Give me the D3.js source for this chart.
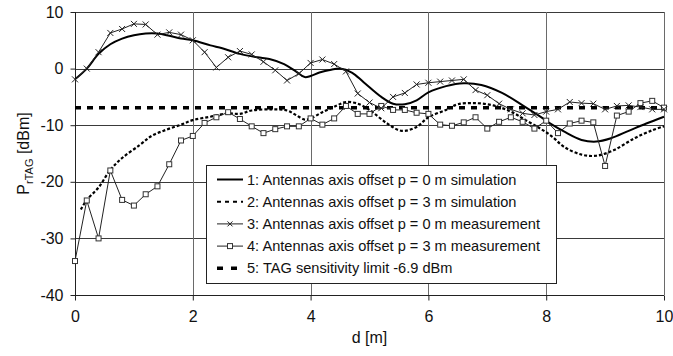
<!DOCTYPE html>
<html>
<head>
<meta charset="utf-8">
<script src="https://cdn.jsdelivr.net/npm/d3@7"></script>
<style>
  body { margin: 0; background: #fff; }
  svg { display: block; font-family: "Liberation Sans", Arial, sans-serif; }
</style>
</head>
<body>
<svg id="chart" width="673" height="356"></svg>
<script>
// measurement distances, 0.2 m steps
const measD = d3.range(0, 10.001, 0.2);

// 3: p = 0 m measurement (crosses)
const meas0 = [-1.9, 0, 2.9, 6.3, 7.0, 7.9, 7.8, 6.0, 6.4, 6.0, 5.0,
  2.9, 0.2, 2.0, 3.1, 2.5, 1.2, -0.3, -2.1, -0.9, 1.0,
  1.6, 0.8, -0.5, -4.4, -6.0, -7.0, -5.0, -4.3, -2.8, -2.5,
  -2.3, -2.1, -1.9, -3.8, -4.7, -6.2, -7.2, -7.9, -8.2, -7.6,
  -7.2, -5.9, -6.1, -6.2, -7.2, -6.6, -6.5, -6.8, -7.2, -7.2];

// 4: p = 3 m measurement (squares)
const meas3 = [-34, -23.3, -30, -18, -23.2, -24.2, -22.2, -20.8, -16.9, -12.7, -11.9,
  -9.6, -8.6, -7.7, -8.9, -10.2, -11.4, -10.7, -10.2, -10.2, -8.8,
  -9.9, -8.8, -6.6, -8.0, -8.0, -6.6, -7.3, -7.3, -7.8, -8.0,
  -9.9, -10.1, -9.5, -8.6, -10.6, -9.4, -8.6, -9.4, -10.6, -9.2,
  -11.4, -9.7, -9.2, -9.5, -17.2, -8.3, -7.6, -6.1, -5.7, -6.9];

// 1: p = 0 m simulation
const sim0D = [0, 0.2, 0.4, 0.6, 0.8, 1.0, 1.2, 1.4, 1.6, 1.8, 2.0, 2.3, 2.5, 2.8, 3.1, 3.3,
  3.55, 3.75, 3.9, 4.0, 4.15, 4.35, 4.5, 4.7, 4.9, 5.2, 5.4, 5.6, 5.8, 6.0, 6.3, 6.6,
  6.9, 7.25, 7.6, 7.9, 8.1, 8.3, 8.6, 8.85, 9.1, 9.4, 9.7, 10];
const sim0 = [-1.9, 0, 2.6, 4.3, 5.3, 5.9, 6.2, 6.2, 5.8, 5.3, 5.0, 4.1, 3.6, 2.6, 2.0, 1.7,
  0.8, -0.5, -1.5, -1.3, -0.7, -0.2, 0, -0.7, -2.4, -5.0, -6.2, -6.3, -5.6, -4.2, -3.1, -2.6,
  -2.9, -4.3, -6.5, -8.5, -9.9, -11.1, -12.6, -12.9, -12.3, -11.0, -9.7, -8.5];

// 2: p = 3 m simulation
const sim3D = [0.1, 0.2, 0.4, 0.6, 0.8, 1.1, 1.3, 1.55, 1.8, 2.0, 2.3, 2.6, 2.8, 3.0, 3.35,
  3.6, 3.75, 3.9, 4.0, 4.2, 4.45, 4.6, 4.8, 5.0, 5.3, 5.55, 5.8, 6.0, 6.3, 6.5, 6.8,
  7.1, 7.4, 7.65, 7.9, 8.1, 8.3, 8.6, 8.85, 9.15, 9.5, 9.8, 10];
const sim3 = [-24.9, -23.2, -21, -17.9, -15.8, -13.5, -11.9, -10.8, -9.9, -9.1, -8.5, -7.9, -8.0, -7.4, -7.2,
  -7.4, -8.2, -9.0, -8.8, -7.7, -6.5, -5.9, -6.2, -7.3, -9.7, -11.0, -10.3, -8.6, -7.3, -6.3, -6.1,
  -6.5, -7.6, -9.1, -10.6, -12.0, -13.8, -15.2, -15.4, -14.4, -12.3, -10.9, -10.2];

// 5: TAG sensitivity limit
const sensLimit = -6.9;

const xTicks = [0, 2, 4, 6, 8, 10];
const yTicks = [10, 0, -10, -20, -30, -40];

const legendLabels = [
  "1: Antennas axis offset p = 0 m simulation",
  "2: Antennas axis offset p = 3 m simulation",
  "3: Antennas axis offset p = 0 m measurement",
  "4: Antennas axis offset p = 3 m measurement",
  "5: TAG sensitivity limit -6.9 dBm"
];

const svg = d3.select("#chart");
const pLeft = 75, pRight = 664, pTop = 12, pBottom = 295;

const x = d3.scaleLinear().domain([0, 10]).range([pLeft, pRight]);
const y = d3.scaleLinear().domain([-40, 10]).range([pBottom, pTop]);

// grid
const grid = svg.append("g");
grid.selectAll("line.h")
  .data(yTicks.filter(v => v > -40))
  .enter().append("line")
  .attr("x1", pLeft).attr("x2", pRight)
  .attr("y1", d => Math.round(y(d)) + 0.5).attr("y2", d => Math.round(y(d)) + 0.5)
  .attr("stroke", "#3a3a3a");
grid.selectAll("line.v")
  .data(xTicks.filter(v => v > 0))
  .enter().append("line")
  .attr("y1", pTop).attr("y2", pBottom)
  .attr("x1", d => Math.round(x(d)) + 0.5).attr("x2", d => Math.round(x(d)) + 0.5)
  .attr("stroke", "#6a6a6a");

// axes (plain hyphen for negatives, as in the source figure)
const plain = d => String(d);
const yAxis = svg.append("g")
  .attr("transform", `translate(${pLeft + 0.5},0)`)
  .call(d3.axisLeft(y).tickValues(yTicks).tickSize(5).tickPadding(7).tickFormat(plain));
const xAxis = svg.append("g")
  .attr("transform", `translate(0,${Math.round(y(-40)) + 0.5})`)
  .call(d3.axisBottom(x).tickValues(xTicks).tickSize(5).tickPadding(10).tickFormat(plain));
[xAxis, yAxis].forEach(a => {
  a.select(".domain").attr("stroke", "#222");
  a.selectAll(".tick line").attr("stroke", "#222");
  a.selectAll("text").attr("font-size", 16).attr("fill", "#111")
    .attr("font-family", "'Liberation Sans', Arial, sans-serif");
});
yAxis.select(".domain").attr("d", `M0,${pTop}V${pBottom}`);
xAxis.select(".domain").attr("d", `M${pLeft},0H${pRight}`);

// axis titles
svg.append("text")
  .attr("x", (pLeft + pRight) / 2).attr("y", 343)
  .attr("text-anchor", "middle").attr("font-size", 16).attr("fill", "#111")
  .text("d [m]");
const yTitle = svg.append("text")
  .attr("transform", `translate(29,${(pTop + pBottom) / 2}) rotate(-90)`)
  .attr("text-anchor", "middle").attr("font-size", 16).attr("fill", "#111");
yTitle.append("tspan").text("P");
yTitle.append("tspan").attr("font-size", 11).attr("dy", 4).text("rTAG");
yTitle.append("tspan").attr("dy", -4).text(" [dBm]");

// sensitivity limit
svg.append("line")
  .attr("x1", x(0)).attr("x2", x(10))
  .attr("y1", y(sensLimit)).attr("y2", y(sensLimit))
  .attr("stroke", "#000").attr("stroke-width", 3.5)
  .attr("stroke-dasharray", "6,6");

const smooth = d3.line().curve(d3.curveCatmullRom.alpha(0.5)).x(d => x(d[0])).y(d => y(d[1]));
const straight = d3.line().x(d => x(d[0])).y(d => y(d[1]));

// simulations
svg.append("path")
  .datum(sim3D.map((d, i) => [d, sim3[i]]))
  .attr("d", smooth).attr("fill", "none")
  .attr("stroke", "#000").attr("stroke-width", 2.2)
  .attr("stroke-dasharray", "3,2");
svg.append("path")
  .datum(sim0D.map((d, i) => [d, sim0[i]]))
  .attr("d", smooth).attr("fill", "none")
  .attr("stroke", "#000").attr("stroke-width", 2);

// measurement p = 3 m
const m3 = measD.map((d, i) => [d, meas3[i]]);
svg.append("path").datum(m3).attr("d", straight)
  .attr("fill", "none").attr("stroke", "#222").attr("stroke-width", 1);
svg.append("g").selectAll("rect")
  .data(m3).enter().append("rect")
  .attr("x", d => x(d[0]) - 2.5).attr("y", d => y(d[1]) - 2.5)
  .attr("width", 5).attr("height", 5)
  .attr("fill", "#fff").attr("stroke", "#333").attr("stroke-width", 1);

// measurement p = 0 m
const m0 = measD.map((d, i) => [d, meas0[i]]);
svg.append("path").datum(m0).attr("d", straight)
  .attr("fill", "none").attr("stroke", "#222").attr("stroke-width", 1);
const cross = (sel, s) => sel.attr("d", `M${-s},${-s}L${s},${s}M${-s},${s}L${s},${-s}`)
  .attr("stroke", "#222").attr("stroke-width", 1).attr("fill", "none");
svg.append("g").selectAll("path")
  .data(m0).enter().append("path")
  .attr("transform", d => `translate(${x(d[0])},${y(d[1])})`)
  .call(cross, 3);

// legend
const lg = svg.append("g").attr("transform", "translate(206,165)");
lg.append("rect").attr("x", 0.5).attr("y", 0.5).attr("width", 350).attr("height", 118)
  .attr("fill", "#fff").attr("stroke", "#222");
const rowY = i => 14.5 + i * 22.2;
const sx1 = 11, sx2 = 37, smid = 24;
lg.append("line").attr("x1", sx1).attr("x2", sx2).attr("y1", rowY(0)).attr("y2", rowY(0))
  .attr("stroke", "#000").attr("stroke-width", 2);
lg.append("line").attr("x1", sx1).attr("x2", sx2).attr("y1", rowY(1)).attr("y2", rowY(1))
  .attr("stroke", "#000").attr("stroke-width", 2).attr("stroke-dasharray", "4,4");
lg.append("line").attr("x1", sx1).attr("x2", sx2).attr("y1", rowY(2)).attr("y2", rowY(2))
  .attr("stroke", "#222").attr("stroke-width", 1);
lg.append("path").attr("transform", `translate(${smid},${rowY(2)})`).call(cross, 2.5);
lg.append("line").attr("x1", sx1).attr("x2", sx2).attr("y1", rowY(3)).attr("y2", rowY(3))
  .attr("stroke", "#222").attr("stroke-width", 1);
lg.append("rect").attr("x", smid - 2.5).attr("y", rowY(3) - 2.5).attr("width", 5).attr("height", 5)
  .attr("fill", "#fff").attr("stroke", "#333");
lg.append("line").attr("x1", sx1).attr("x2", sx2).attr("y1", rowY(4)).attr("y2", rowY(4))
  .attr("stroke", "#000").attr("stroke-width", 3.5).attr("stroke-dasharray", "6,8");
lg.selectAll("text.lab").data(legendLabels).enter().append("text")
  .attr("x", 41).attr("y", (d, i) => rowY(i) + 5)
  .attr("font-size", 14.6).attr("fill", "#111")
  .text(d => d);
</script>
</body>
</html>
